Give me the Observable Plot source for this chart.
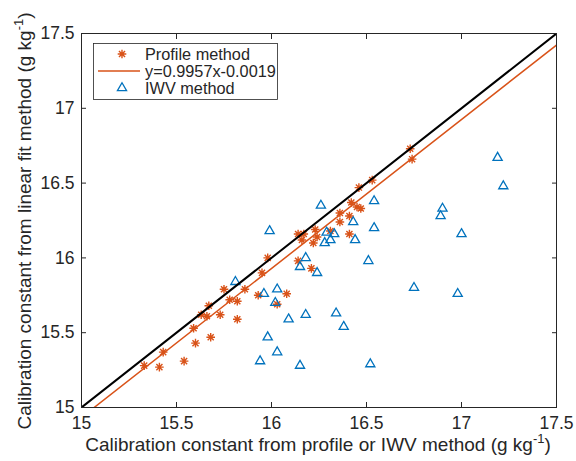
<!DOCTYPE html>
<html><head><meta charset="utf-8">
<script src="https://cdn.jsdelivr.net/npm/d3@7"></script>
<script src="https://cdn.jsdelivr.net/npm/@observablehq/plot@0.6"></script>
<style>body{margin:0;background:#fff;} svg{display:block;}</style>
</head><body><div id="chart"></div>
<script>
// Profile method (x: profile constant, y: linear fit constant)
const profileX = [15.33,15.41,15.43,15.54,15.60,15.68,15.59,15.63,15.66,15.67,15.73,15.75,15.78,15.82,15.82,15.86,15.93,15.95,15.98,16.03,16.08,16.14,16.21,16.14,16.16,16.17,16.22,16.23,16.24,16.31,16.36,16.36,16.41,16.41,16.42,16.45,16.47,16.46,16.53,16.73,16.74];
const profileY = [15.28,15.27,15.37,15.31,15.43,15.47,15.53,15.62,15.61,15.68,15.62,15.79,15.72,15.71,15.59,15.79,15.75,15.90,16.00,15.69,15.76,15.98,15.93,16.16,16.12,16.16,16.10,16.19,16.14,16.18,16.30,16.24,16.28,16.16,16.37,16.34,16.33,16.47,16.52,16.73,16.66];
// IWV method
const iwvX = [15.81,15.99,15.96,16.03,16.02,15.98,16.03,15.94,16.09,16.18,16.15,16.18,16.24,16.26,16.29,16.33,16.31,16.28,16.43,16.44,16.54,16.54,16.51,16.34,16.38,16.15,16.52,16.75,16.98,16.89,16.90,17.00,17.19,17.22];
const iwvY = [15.84,16.18,15.76,15.79,15.70,15.47,15.37,15.31,15.59,15.62,15.94,16.00,15.90,16.35,16.17,16.16,16.12,16.10,16.24,16.12,16.20,16.38,15.98,15.63,15.54,15.28,15.29,15.80,15.76,16.28,16.33,16.16,16.67,16.48];
// Fit line
const fitSlope = 0.9957;
const fitIntercept = -0.0019;
const fitLabel = "y=0.9957x-0.0019";
const seriesNames = ["Profile method", fitLabel, "IWV method"];
const xTicks = [15, 15.5, 16, 16.5, 17, 17.5];
const yTicks = [15, 15.5, 16, 16.5, 17, 17.5];
const xDomain = [15, 17.5];
const yDomain = [15, 17.5];

const ORANGE = "#D95319", BLUE = "#0072BD", INK = "#262626";
const FONT = "'Liberation Sans', Arial, Helvetica, sans-serif";

const profile = profileX.map((x, i) => ({x, y: profileY[i]}));
const iwv = iwvX.map((x, i) => ({x, y: iwvY[i]}));
const identity = xDomain.map(x => ({x, y: x}));
const fit = xDomain.map(x => ({x, y: fitSlope * x + fitIntercept}));

const asterisk8 = {
  draw(ctx, size) {
    const r = Math.sqrt(size / Math.PI), d = r * Math.SQRT1_2;
    ctx.moveTo(-r, 0); ctx.lineTo(r, 0);
    ctx.moveTo(0, -r); ctx.lineTo(0, r);
    ctx.moveTo(-d, -d); ctx.lineTo(d, d);
    ctx.moveTo(-d, d); ctx.lineTo(d, -d);
  }
};

const W = 576, H = 461;
const chart = Plot.plot({
  width: W, height: H,
  marginLeft: 81, marginRight: 20, marginTop: 33, marginBottom: 54,
  style: {fontFamily: FONT, background: "#fff", color: INK},
  x: {domain: xDomain, label: null},
  y: {domain: yDomain, label: null},
  marks: [
    Plot.dot(profile, {x: "x", y: "y", symbol: asterisk8, r: 4.3, stroke: ORANGE, strokeWidth: 1.4, fill: "none"}),
    Plot.line(fit, {x: "x", y: "y", stroke: ORANGE, strokeWidth: 1.5, clip: true}),
    Plot.dot(iwv, {x: "x", y: "y", symbol: "triangle", r: 3.4, stroke: BLUE, strokeWidth: 1.3, fill: "none"}),
    Plot.line(identity, {x: "x", y: "y", stroke: "#000", strokeWidth: 2, clip: true}),
    Plot.frame({stroke: INK, strokeWidth: 1}),
    Plot.axisX(xTicks, {anchor: "bottom", tickSize: -5, tickPadding: 14, tickFormat: d => String(d), label: null, fontSize: 17.5, stroke: INK, fill: INK}),
    Plot.axisX(xTicks, {anchor: "top", tickSize: -5, tickFormat: () => "", label: null, stroke: INK}),
    Plot.axisY(yTicks, {anchor: "left", tickSize: -5, tickPadding: 12, tickFormat: d => String(d), label: null, fontSize: 17.5, stroke: INK, fill: INK}),
    Plot.axisY(yTicks, {anchor: "right", tickSize: -5, tickFormat: () => "", label: null, stroke: INK})
  ]
});
document.getElementById("chart").appendChild(chart);

const svg = d3.select(chart);
// X title
const xt = svg.append("text").attr("x", 318).attr("y", 451).attr("text-anchor", "middle")
  .attr("font-family", FONT).attr("font-size", 19).attr("fill", INK);
xt.append("tspan").text("Calibration constant from profile or IWV method (g kg");
xt.append("tspan").attr("font-size", 13).attr("dy", -8).text("-1");
xt.append("tspan").attr("dy", 8).text(")");
// Y title
const yt = svg.append("text").attr("transform", "translate(31,221) rotate(-90)").attr("text-anchor", "middle")
  .attr("font-family", FONT).attr("font-size", 19).attr("fill", INK);
yt.append("tspan").text("Calibration constant from linear fit method (g kg");
yt.append("tspan").attr("font-size", 13).attr("dy", -8).text("-1");
yt.append("tspan").attr("dy", 8).text(")");

// Legend
const lg = svg.append("g").attr("font-family", FONT).attr("font-size", 16.3).attr("fill", INK).attr("text-anchor", "start");
lg.append("rect").attr("x", 93.5).attr("y", 43.5).attr("width", 184).attr("height", 56)
  .attr("fill", "#fff").attr("stroke", INK).attr("stroke-width", 0.8);
const rows = [54, 71, 88];
lg.append("path").attr("transform", `translate(122,${rows[0]})`)
  .attr("d", d3.symbol(asterisk8, 4.3 * 4.3 * Math.PI)()).attr("stroke", ORANGE).attr("stroke-width", 1.4).attr("fill", "none");
lg.append("line").attr("x1", 98).attr("x2", 140).attr("y1", rows[1]).attr("y2", rows[1])
  .attr("stroke", ORANGE).attr("stroke-width", 1.5);
lg.append("path").attr("transform", `translate(122,${rows[2]})`)
  .attr("d", d3.symbol(d3.symbolTriangle, 3.4 * 3.4 * Math.PI)()).attr("stroke", BLUE).attr("stroke-width", 1.3).attr("fill", "none");
seriesNames.forEach((name, i) => {
  lg.append("text").attr("x", 145).attr("y", rows[i] + 6).text(name);
});
</script>
</body></html>
